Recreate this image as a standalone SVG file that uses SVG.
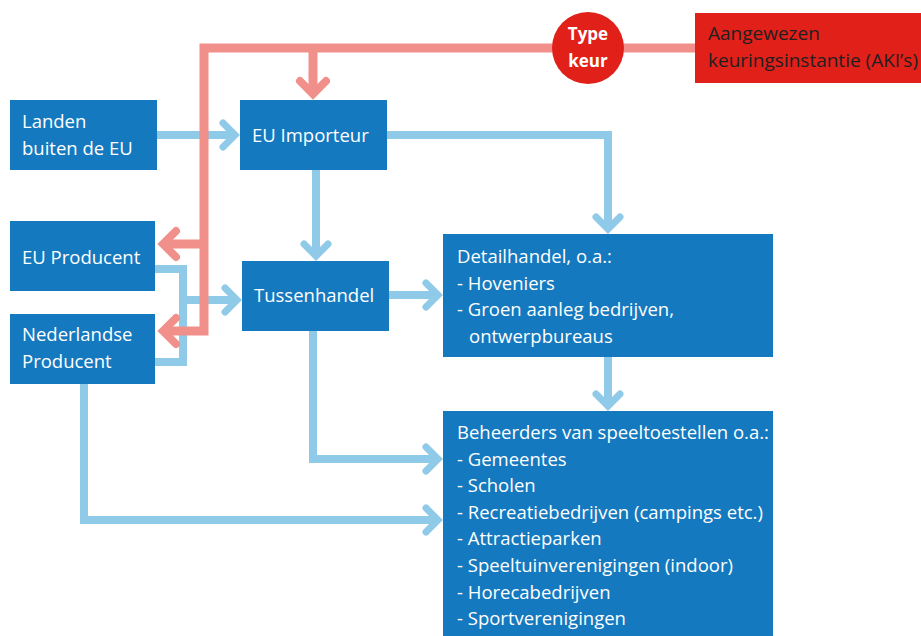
<svg xmlns="http://www.w3.org/2000/svg" width="921" height="636" viewBox="0 0 921 636">
<style>
.box{fill:#1479BE}
.t{font-family:"Open Sans","Noto Sans",sans-serif;font-size:18.5px;fill:#ffffff}
.tk{font-family:"Open Sans","Noto Sans",sans-serif;font-size:19px;fill:#231f20}
.tb{font-family:"Open Sans","Noto Sans",sans-serif;font-size:17px;font-weight:bold;fill:#ffffff;text-anchor:middle}
.bl{fill:none;stroke:#8FCBE8;stroke-width:8;stroke-linejoin:miter}
.rd{fill:none;stroke:#F1908A;stroke-width:9;stroke-linejoin:miter}
</style>
<defs>
<marker id="ab" markerUnits="userSpaceOnUse" markerWidth="40" markerHeight="40" viewBox="-20 -20 40 40" refX="0" refY="0" orient="auto" overflow="visible">
<path d="M-12,-12 L0,0 L-12,12" fill="none" stroke="#8FCBE8" stroke-width="7" stroke-linecap="round" stroke-linejoin="miter"/>
</marker>
<marker id="ar" markerUnits="userSpaceOnUse" markerWidth="40" markerHeight="40" viewBox="-20 -20 40 40" refX="0" refY="0" orient="auto" overflow="visible">
<path d="M-13,-13 L0,0 L-13,13" fill="none" stroke="#F1908A" stroke-width="8" stroke-linecap="round" stroke-linejoin="miter"/>
</marker>
</defs>
<g id="connectors">
<path class="bl" d="M157 135 H235" marker-end="url(#ab)"/>
<path class="bl" d="M387 135 H608 V229" marker-end="url(#ab)"/>
<path class="bl" d="M316 170 V256" marker-end="url(#ab)"/>
<path class="bl" d="M389 295 H438" marker-end="url(#ab)"/>
<path class="bl" d="M155 269 H183 V362 H155"/>
<path class="bl" d="M183 300 H237" marker-end="url(#ab)"/>
<path class="bl" d="M608 357 V406" marker-end="url(#ab)"/>
<path class="bl" d="M313 331 V459 H438" marker-end="url(#ab)"/>
<path class="bl" d="M84 384 V520 H438" marker-end="url(#ab)"/>
<path class="rd" d="M695 48 H204 V331 H163" marker-end="url(#ar)"/>
<path class="rd" d="M204 244 H163" marker-end="url(#ar)"/>
<path class="rd" d="M313 48 V94" marker-end="url(#ar)"/>
</g>
<g id="n_landen">
<rect class="box" x="10" y="100" width="147" height="70"/>
<text class="t" x="22" y="128">Landen</text>
<text class="t" x="22" y="155">buiten de EU</text>
</g>
<g id="n_importeur">
<rect class="box" x="240" y="100" width="147" height="70"/>
<text class="t" x="252" y="141.5">EU Importeur</text>
</g>
<g id="n_eupro">
<rect class="box" x="10" y="221" width="145" height="70"/>
<text class="t" x="22" y="264">EU Producent</text>
</g>
<g id="n_nlpro">
<rect class="box" x="10" y="314" width="145" height="70"/>
<text class="t" x="22" y="341">Nederlandse</text>
<text class="t" x="22" y="368">Producent</text>
</g>
<g id="n_tussen">
<rect class="box" x="242" y="261" width="147" height="70"/>
<text class="t" x="254" y="302">Tussenhandel</text>
</g>
<g id="n_detail">
<rect class="box" x="443" y="234" width="330" height="123"/>
<text class="t" x="457" y="263">Detailhandel, o.a.:</text>
<text class="t" x="457" y="289.5">- Hoveniers</text>
<text class="t" x="457" y="316">- Groen aanleg bedrijven,</text>
<text class="t" x="469" y="342.5">ontwerpbureaus</text>
</g>
<g id="n_beheer">
<rect class="box" x="443" y="411" width="330" height="225"/>
<text class="t" x="457" y="439">Beheerders van speeltoestellen o.a.:</text>
<text class="t" x="457" y="465.6">- Gemeentes</text>
<text class="t" x="457" y="492.2">- Scholen</text>
<text class="t" x="457" y="518.8">- Recreatiebedrijven (campings etc.)</text>
<text class="t" x="457" y="545.4">- Attractieparken</text>
<text class="t" x="457" y="572">- Speeltuinverenigingen (indoor)</text>
<text class="t" x="457" y="598.6">- Horecabedrijven</text>
<text class="t" x="457" y="625.2">- Sportverenigingen</text>
</g>
<g id="n_aki">
<rect x="695" y="13" width="226" height="70" fill="#E2201A"/>
<text class="tk" x="708" y="40">Aangewezen</text>
<text class="tk" x="708" y="66.5">keuringsinstantie (AKI’s)</text>
</g>
<g id="n_type">
<circle cx="588" cy="48" r="36" fill="#E2201A"/>
<text class="tb" x="588" y="40">Type</text>
<text class="tb" x="588" y="66.5">keur</text>
</g>
</svg>
